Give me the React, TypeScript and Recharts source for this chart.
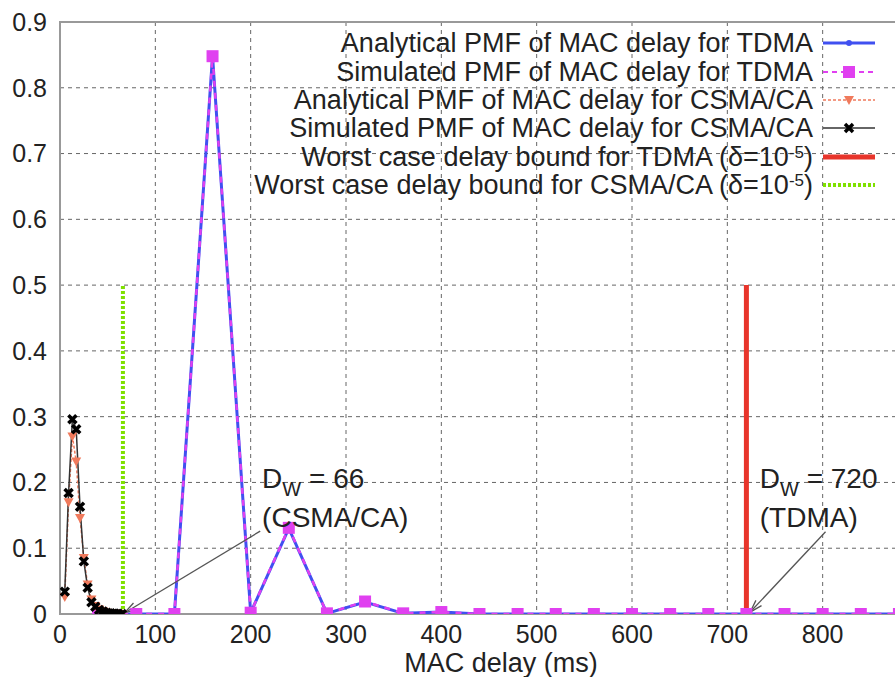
import React from 'react'
import {
  LineChart,
  Line,
  XAxis,
  YAxis,
  CartesianGrid,
  ReferenceArea,
  ReferenceLine,
  ReferenceDot,
} from 'recharts'

// TDMA PMF, 40 ms slots
const tdmaDelay = [40, 80, 120, 160, 200, 240, 280, 320, 360, 400, 440, 480, 520, 560, 600, 640, 680, 720, 760, 800, 840, 880]
const tdmaAnalytical = [0, 0, 0, 0.848, 0.002, 0.13, 0.001, 0.018, 0.001, 0.003, 0, 0, 0, 0, 0, 0, 0, 0, 0, 0, 0, 0]
const tdmaSimulated = [0, 0, 0, 0.848, 0.002, 0.131, 0.001, 0.019, 0.001, 0.003, 0, 0, 0, 0, 0, 0, 0, 0, 0, 0, 0, 0]

// CSMA/CA PMF
const csmaDelay = [5, 9, 13, 17, 21, 25, 29, 33, 37, 41, 45, 49, 53, 57, 61, 65]
const csmaAnalytical = [0.026, 0.17, 0.27, 0.232, 0.146, 0.085, 0.045, 0.022, 0.012, 0.007, 0.004, 0.002, 0.001, 0.0006, 0.0003, 0.0001]
const csmaSimulated = [0.034, 0.184, 0.296, 0.281, 0.163, 0.08, 0.04, 0.018, 0.011, 0.006, 0.004, 0.002, 0.001, 0.0006, 0.0003, 0.0001]

// worst case bounds (delta = 1e-5)
const tdmaBound = 720
const csmaBound = 66
const boundHeight = 0.5

const xTicks = [0, 100, 200, 300, 400, 500, 600, 700, 800]
const yTicks = [0, 0.1, 0.2, 0.3, 0.4, 0.5, 0.6, 0.7, 0.8, 0.9]

const legendLabels = [
  'Analytical PMF of MAC delay for TDMA',
  'Simulated PMF of MAC delay for TDMA',
  'Analytical PMF of MAC delay for CSMA/CA',
  'Simulated PMF of MAC delay for CSMA/CA',
  'Worst case delay bound for TDMA (δ=10',
  'Worst case delay bound for CSMA/CA (δ=10',
]

const BLUE = '#4050f0'
const MAGENTA = '#e040f0'
const SALMON = '#f07a5c'
const DARK = '#333'
const RED = '#e8352b'
const GREEN = '#7fe000'
const FONT = '"Liberation Sans", Arial, Helvetica, sans-serif'

const toPoints = (xs: number[], ys: number[]) => xs.map((x, i) => ({ x, y: ys[i] }))

const tdmaA = toPoints(tdmaDelay, tdmaAnalytical)
const tdmaS = toPoints(tdmaDelay, tdmaSimulated)
const csmaA = toPoints(csmaDelay, csmaAnalytical)
const csmaS = toPoints(csmaDelay, csmaSimulated)
const tdmaB = [{ x: tdmaBound, y: 0 }, { x: tdmaBound, y: boundHeight }]
const csmaB = [{ x: csmaBound, y: 0 }, { x: csmaBound, y: boundHeight }]

const Square = ({ cx, cy, index }: any) => (
  <rect key={index} x={cx - 6} y={cy - 6} width={12} height={12} fill={MAGENTA} />
)
const SmallDot = ({ cx, cy, index }: any) => (
  <circle key={index} cx={cx} cy={cy} r={3} fill={BLUE} />
)
const Triangle = ({ cx, cy, index }: any) => (
  <path key={index} d={`M${cx - 5},${cy - 4}L${cx + 5},${cy - 4}L${cx},${cy + 5}Z`} fill={SALMON} />
)
const Cross = ({ cx, cy, index }: any) => (
  <path key={index} d={`M${cx - 4},${cy - 4}L${cx + 4},${cy + 4}M${cx + 4},${cy - 4}L${cx - 4},${cy + 4}`} stroke="#000" strokeWidth={3.5} />
)

const Arrow = (props: any) => {
  const { x1, y1, x2, y2 } = props
  const a = Math.atan2(y2 - y1, x2 - x1)
  const len = 13
  const spread = 0.3
  const h1 = [x2 - len * Math.cos(a - spread), y2 - len * Math.sin(a - spread)]
  const h2 = [x2 - len * Math.cos(a + spread), y2 - len * Math.sin(a + spread)]
  return (
    <g>
      <line x1={x1} y1={y1} x2={x2} y2={y2} stroke="#555" strokeWidth={1.3} />
      <path d={`M${h1[0]},${h1[1]}L${x2},${y2}L${h2[0]},${h2[1]}`} fill="none" stroke="#555" strokeWidth={1.3} />
    </g>
  )
}

const annotation = (value: string, scheme: string) => (props: any) => (
  <g>
    <text x={props.cx} y={props.cy} fontSize={28} fill="#222">
      <tspan>D</tspan>
      <tspan dy={8} fontSize={20}>W</tspan>
      <tspan dy={-8}>{` = ${value}`}</tspan>
    </text>
    <text x={props.cx} y={props.cy + 39} fontSize={28} fill="#222">{scheme}</text>
  </g>
)

function LegendSample({ row }: { row: number }) {
  const y = 14
  return (
    <svg width={52} height={28} style={{ marginLeft: 10, overflow: 'visible' }}>
      {row === 0 && (
        <g>
          <line x1={0} y1={y} x2={52} y2={y} stroke={BLUE} strokeWidth={3} />
          <circle cx={26} cy={y} r={3} fill={BLUE} />
        </g>
      )}
      {row === 1 && (
        <g>
          <line x1={0} y1={y} x2={52} y2={y} stroke={MAGENTA} strokeWidth={2} strokeDasharray="5 4" />
          <rect x={20} y={y - 6} width={12} height={12} fill={MAGENTA} />
        </g>
      )}
      {row === 2 && (
        <g>
          <line x1={0} y1={y} x2={52} y2={y} stroke={SALMON} strokeWidth={1.5} strokeDasharray="3 2" />
          <path d={`M21,${y - 4}L31,${y - 4}L26,${y + 5}Z`} fill={SALMON} />
        </g>
      )}
      {row === 3 && (
        <g>
          <line x1={0} y1={y} x2={52} y2={y} stroke={DARK} strokeWidth={1.5} />
          <path d={`M22,${y - 4}L30,${y + 4}M30,${y - 4}L22,${y + 4}`} stroke="#000" strokeWidth={3.5} />
        </g>
      )}
      {row === 4 && <line x1={0} y1={y} x2={52} y2={y} stroke={RED} strokeWidth={5} />}
      {row === 5 && <line x1={0} y1={y} x2={52} y2={y} stroke={GREEN} strokeWidth={4} strokeDasharray="3 2" />}
    </svg>
  )
}

export default function App() {
  return (
    <div
      style={{
        position: 'absolute',
        left: 0,
        top: 0,
        width: 895,
        height: 677,
        overflow: 'hidden',
        background: '#fff',
        fontFamily: FONT,
      }}
    >
      <LineChart width={920} height={677} margin={{ top: 22, right: 2, bottom: 0, left: 0 }}>
        <CartesianGrid stroke="#666" strokeDasharray="4 4" strokeWidth={1} />
        <XAxis
          type="number"
          dataKey="x"
          domain={[0, 900]}
          ticks={xTicks}
          interval={0}
          allowDataOverflow
          height={63}
          axisLine={false}
          tickLine={false}
          tickSize={6}
          tickMargin={5}
          tick={{ fill: '#222', fontSize: 25 }}
          label={{
            value: 'MAC delay (ms)',
            position: 'insideBottom',
            offset: 5,
            dx: 12,
            fontSize: 27,
            fill: '#222',
          }}
        />
        <YAxis
          type="number"
          domain={[0, 0.9]}
          ticks={yTicks}
          interval={0}
          allowDataOverflow
          width={60}
          axisLine={false}
          tickLine={false}
          tickSize={6}
          tickMargin={7}
          tick={{ fill: '#222', fontSize: 25 }}
        />
        <ReferenceArea x1={0} x2={900} y1={0} y2={0.9} fill="none" stroke="#999" strokeWidth={2} ifOverflow="visible" />

        <Line data={tdmaA} dataKey="y" stroke={BLUE} strokeWidth={3} dot={SmallDot} isAnimationActive={false} />
        <Line data={tdmaS} dataKey="y" stroke={MAGENTA} strokeWidth={2.5} strokeDasharray="6 6" dot={Square} isAnimationActive={false} />
        <Line data={csmaA} dataKey="y" stroke={SALMON} strokeWidth={1.5} strokeDasharray="3 2" dot={Triangle} isAnimationActive={false} />
        <Line data={csmaS} dataKey="y" stroke={DARK} strokeWidth={1.5} dot={Cross} isAnimationActive={false} />
        <Line data={tdmaB} dataKey="y" stroke={RED} strokeWidth={5} dot={false} isAnimationActive={false} />
        <Line data={csmaB} dataKey="y" stroke={GREEN} strokeWidth={4} strokeDasharray="3 2" dot={false} isAnimationActive={false} />

        <ReferenceLine segment={[{ x: 210, y: 0.126 }, { x: 68, y: 0.002 }]} shape={Arrow} ifOverflow="visible" />
        <ReferenceLine segment={[{ x: 803, y: 0.125 }, { x: 724, y: 0.003 }]} shape={Arrow} ifOverflow="visible" />
        <ReferenceDot x={212} y={0.1915} r={0} shape={annotation('66', '(CSMA/CA)')} ifOverflow="visible" />
        <ReferenceDot x={734} y={0.1915} r={0} shape={annotation('720', '(TDMA)')} ifOverflow="visible" />
      </LineChart>

      <div style={{ position: 'absolute', left: 0, top: 29, width: 895, fontSize: 27, color: '#222' }}>
        {legendLabels.map((label, i) => (
          <div key={label} style={{ display: 'flex', alignItems: 'center', height: 28.4 }}>
            <span style={{ width: 813, textAlign: 'right', whiteSpace: 'nowrap', lineHeight: '28px' }}>
              {label}
              {i >= 4 && (
                <>
                  <sup style={{ fontSize: 17, verticalAlign: 'top', position: 'relative', top: -4 }}>-5</sup>)
                </>
              )}
            </span>
            <LegendSample row={i} />
          </div>
        ))}
      </div>
    </div>
  )
}
